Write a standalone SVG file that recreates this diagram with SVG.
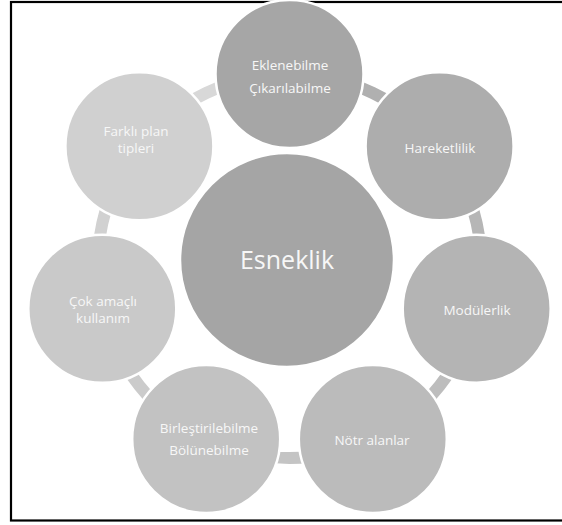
<svg xmlns="http://www.w3.org/2000/svg" width="562" height="525" viewBox="0 0 562 525">
  <style>
    .node { stroke: #ffffff; stroke-width: 2.5; }
    .lbl { font-family: "Open Sans", "Liberation Sans", sans-serif; font-size: 13.5px; fill: #f7f7f7; text-anchor: middle; }
    .big { font-family: "Open Sans", "Liberation Sans", sans-serif; font-size: 25px; fill: #f7f7f7; text-anchor: middle; }
    .conn { fill: none; stroke-width: 12; }
  </style>
  <rect x="0" y="0" width="562" height="525" fill="#ffffff"/>
  <rect x="11" y="2" width="580" height="518.5" fill="none" stroke="#000000" stroke-width="2.2"/>
  <g id="connectors">
    <path class="conn" stroke="#b0b0b0" d="M289.5 74 A192 192 0 0 1 439.6 146.3"/>
    <path class="conn" stroke="#b6b6b6" d="M439.6 146.3 A192 192 0 0 1 476.7 308.7"/>
    <path class="conn" stroke="#bdbdbd" d="M476.7 308.7 A192 192 0 0 1 372.8 439"/>
    <path class="conn" stroke="#c4c4c4" d="M372.8 439 A192 192 0 0 1 206.2 439"/>
    <path class="conn" stroke="#cbcbcb" d="M206.2 439 A192 192 0 0 1 102.3 308.7"/>
    <path class="conn" stroke="#d1d1d1" d="M102.3 308.7 A192 192 0 0 1 139.4 146.3"/>
    <path class="conn" stroke="#d8d8d8" d="M139.4 146.3 A192 192 0 0 1 289.5 74"/>
  </g>
  <g id="center">
    <circle class="node" cx="287" cy="260" r="107" fill="#a5a5a5"/>
    <text class="big" x="287" y="269">Esneklik</text>
  </g>
  <g id="n-eklenebilme">
    <circle class="node" cx="289.5" cy="74" r="74" fill="#a6a6a6"/>
    <text class="lbl" x="290" y="70">Eklenebilme</text>
    <text class="lbl" x="290" y="93">Çıkarılabilme</text>
  </g>
  <g id="n-hareketlilik">
    <circle class="node" cx="439.6" cy="146.3" r="74" fill="#adadad"/>
    <text class="lbl" x="440" y="153">Hareketlilik</text>
  </g>
  <g id="n-modulerlik">
    <circle class="node" cx="476.7" cy="308.7" r="74" fill="#b4b4b4"/>
    <text class="lbl" x="477" y="315">Modülerlik</text>
  </g>
  <g id="n-notr">
    <circle class="node" cx="372.8" cy="439" r="74" fill="#bbbbbb"/>
    <text class="lbl" x="372" y="445">Nötr alanlar</text>
  </g>
  <g id="n-birlestirilebilme">
    <circle class="node" cx="206.2" cy="439" r="74" fill="#c2c2c2"/>
    <text class="lbl" x="209" y="433">Birleştirilebilme</text>
    <text class="lbl" x="209" y="455">Bölünebilme</text>
  </g>
  <g id="n-cokamacli">
    <circle class="node" cx="102.3" cy="308.7" r="74" fill="#c9c9c9"/>
    <text class="lbl" x="103" y="306">Çok amaçlı</text>
    <text class="lbl" x="103" y="323">kullanım</text>
  </g>
  <g id="n-farkli">
    <circle class="node" cx="139.4" cy="146.3" r="74" fill="#d0d0d0"/>
    <text class="lbl" x="136" y="136">Farklı plan</text>
    <text class="lbl" x="136" y="153">tipleri</text>
  </g>
</svg>
